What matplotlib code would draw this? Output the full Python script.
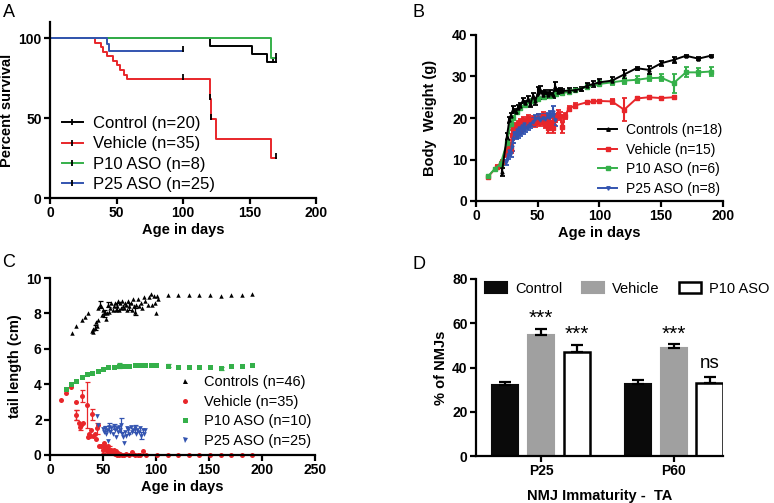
import matplotlib
matplotlib.use("Agg")
import matplotlib.pyplot as plt
from matplotlib.lines import Line2D
import numpy as np

plt.rcParams['font.family'] = ['Liberation Sans', 'DejaVu Sans']

BLACK = "#000000"
RED = "#e8262a"
GREEN = "#35b04a"
BLUE = "#3354b0"

# ---- A: survival ----
surv_ctrl_t = [0, 120, 152, 163, 170]
surv_ctrl_s = [100, 95, 90, 85, 85]
surv_veh_t = [0, 34, 38, 40, 43, 47, 50, 53, 56, 58, 62, 120, 121, 125, 166, 170]
surv_veh_s = [100, 97.1, 94.3, 91.4, 88.6, 85.7, 82.9, 80.0, 77.1, 74.3, 74.3, 61.9, 49.5, 37.1, 24.8, 24.8]
surv_p10_t = [0, 166, 170]
surv_p10_s = [100, 87.5, 87.5]
surv_p25_t = [0, 43, 44, 100]
surv_p25_s = [100, 96, 92, 92]
cens_ctrl = [(168, 85), (170, 85)]
cens_veh = [(100, 74.3), (120, 61.9), (121, 49.5), (170, 24.8)]
cens_p10 = [(170, 87.5)]
cens_p25 = [(100, 92)]

# ---- B: body weight ----
bw_ctrl_x = [21, 25, 27, 28, 30, 32, 34, 36, 38, 40, 42, 44, 46, 48, 50, 52, 54, 56, 58, 60,
             62, 64, 66, 68, 70, 75, 80, 85, 90, 95, 100, 110, 120, 130, 140, 150, 160, 170, 180, 190]
bw_ctrl_y = [7.0, 15.5, 19.5, 20.5, 22.0, 21.5, 22.5, 23.0, 24.2, 23.5, 24.5, 23.3, 25.2, 24.0, 26.0,
             26.8, 25.5, 26.2, 25.5, 26.0, 25.5, 27.5, 26.3, 26.6, 26.5, 26.6, 26.7, 27.0, 27.8, 28.2,
             28.6, 29.0, 30.5, 32.0, 31.6, 33.2, 34.0, 35.0, 34.3, 35.0]
bw_ctrl_e = [1.0, 0.8, 0.8, 0.7, 0.8, 0.6, 0.6, 0.6, 0.7, 0.6, 0.8, 0.7, 0.9, 0.8, 1.5, 0.8, 1.0, 0.6,
             0.8, 0.7, 0.6, 1.2, 0.6, 0.7, 0.6, 0.6, 0.5, 0.5, 0.7, 0.7, 0.7, 0.8, 1.0, 0.4, 0.9, 0.6,
             0.8, 0.3, 0.3, 0.3]

bw_veh_x = [10, 17, 21, 24, 26, 28, 29, 30, 32, 34, 35, 36, 38, 40, 42, 44, 46, 48, 50, 52, 54, 56,
            57, 58, 60, 62, 63, 64, 66, 68, 70, 72, 75, 80, 90, 95, 100, 110, 120, 130, 140, 150, 160]
bw_veh_y = [5.9, 8.3, 9.5, 11.5, 13.0, 12.5, 16.0, 17.5, 18.0, 18.5, 17.0, 19.0, 19.5, 18.5, 20.0,
            19.0, 19.5, 18.8, 20.0, 19.0, 20.5, 18.5, 20.0, 17.5, 19.0, 17.5, 19.5, 20.0, 21.0, 20.5,
            17.8, 20.5, 22.2, 23.0, 23.8, 24.0, 24.1, 24.0, 22.0, 24.7, 25.0, 24.8, 25.0]
bw_veh_e = [0.3, 0.3, 0.5, 0.8, 1.0, 1.0, 1.2, 1.0, 0.8, 0.8, 0.9, 0.8, 0.8, 0.9, 0.8, 0.9, 0.9, 0.9,
            1.0, 0.9, 1.0, 1.0, 0.9, 1.0, 1.0, 1.0, 1.2, 1.0, 1.0, 1.0, 1.3, 0.8, 0.6, 0.5, 0.4, 0.3,
            0.3, 0.6, 2.8, 0.3, 0.3, 0.3, 0.3]

bw_p10_x = [10, 15, 20, 25, 28, 30, 33, 36, 40, 45, 50, 55, 60, 65, 70, 75, 80, 90, 100, 110, 120,
            130, 140, 150, 160, 170, 180, 190]
bw_p10_y = [6.0, 7.7, 9.0, 14.0, 18.5, 20.0, 21.5, 22.5, 23.2, 24.0, 24.5, 25.0, 25.3, 25.7, 26.0,
            26.3, 26.7, 27.5, 28.2, 28.6, 29.0, 29.2, 29.6, 29.7, 28.4, 31.0, 31.0, 31.2]
bw_p10_e = [0.3, 0.3, 0.4, 0.6, 0.6, 0.6, 0.5, 0.5, 0.5, 0.5, 0.5, 0.5, 0.5, 0.5, 0.5, 0.5, 0.5, 0.6,
            0.6, 0.6, 0.7, 0.8, 0.8, 0.9, 2.3, 1.2, 1.0, 1.0]

bw_p25_x = [24, 26, 27, 28, 29, 30, 31, 32, 33, 34, 35, 36, 37, 38, 39, 40, 42, 44, 46, 48, 50, 52,
            54, 56, 58, 60, 62, 64]
bw_p25_y = [9.3, 11.0, 12.0, 11.5, 13.0, 15.0, 16.5, 15.8, 17.0, 16.0, 17.5, 16.5, 18.0, 17.0, 18.5,
            17.5, 18.0, 18.5, 19.0, 19.8, 20.0, 19.5, 20.0, 19.8, 20.3, 20.5, 21.5, 19.5]
bw_p25_e = [0.6, 0.8, 0.8, 0.8, 0.9, 1.0, 1.0, 0.9, 1.0, 0.9, 1.0, 0.9, 1.0, 0.9, 1.0, 0.9, 0.9, 0.9,
            1.0, 1.0, 0.9, 1.0, 1.0, 1.0, 1.0, 1.2, 1.3, 1.5]

# ---- C: tail length ----
tl_ctrl_x = [21, 25, 30, 33, 36, 40, 41, 41, 42, 43, 44, 45, 45, 47, 48, 49, 50, 51, 52, 53, 54, 55,
             56, 57, 58, 59, 60, 61, 62, 63, 64, 65, 66, 67, 68, 69, 70, 71, 72, 73, 74, 75, 76, 77,
             78, 79, 80, 81, 83, 84, 86, 87, 89, 90, 92, 93, 95, 96, 98, 99, 100, 101, 102,
             111, 121, 131, 141, 151, 161, 171, 181, 191]
tl_ctrl_y = [6.9, 7.3, 7.6, 7.8, 8.0, 7.0, 6.95, 7.1, 7.2, 7.5, 7.3, 7.6, 8.3, 8.5, 8.4, 7.9, 8.2,
             8.0, 8.1, 7.7, 8.0, 8.5, 8.1, 8.3, 8.6, 8.2, 8.4, 8.6, 8.2, 8.4, 8.7, 8.2, 8.6, 8.3, 8.7,
             8.4, 8.3, 8.6, 8.5, 8.2, 8.7, 8.4, 8.6, 8.2, 8.8, 8.4, 8.1, 8.5, 8.8, 8.4, 8.6, 8.3, 8.9,
             8.7, 8.5, 8.9, 9.1, 8.5, 9.0, 8.6, 8.0, 9.0, 8.8,
             9.05, 9.05, 9.05, 9.05, 9.05, 9.0, 9.05, 9.05, 9.1]
tl_ctrl_err = {47: 0.2, 51: 0.2, 55: 0.15, 63: 0.2, 75: 0.2, 80: 0.2, 42: 0.15}

tl_veh_x = [10, 15, 20, 25, 25, 27, 28, 29, 30, 31, 35, 36, 37, 38, 39, 40, 41, 42, 43, 44, 45, 46,
            48, 50, 51, 52, 53, 54, 55, 56, 57, 58, 59, 60, 61, 62, 63, 64, 65, 66, 68, 70, 72, 75,
            77, 78, 80, 83, 85, 88, 91, 101, 111, 121, 131, 141, 151, 161, 171, 181, 191]
tl_veh_y = [3.1, 3.5, 3.85, 2.25, 3.0, 1.8, 1.6, 1.7, 3.35, 1.8, 2.8, 1.0, 1.2, 1.1, 1.4, 2.3, 1.1,
            1.2, 0.9, 1.5, 1.7, 0.5, 0.5, 0.3, 0.7, 0.5, 0.4, 0.2, 0.5, 0.3, 0.1, 0.3, 0.1, 0.3,
            0.05, 0.2, 0.0, 0.1, 0.0, 0.05, 0.0, 0.0, 0.05, 0.0, 0.15, 0.05, 0.0, 0.0, 0.0, 0.2,
            0.0, 0.0, 0.0, 0.0, 0.0, 0.0, 0.0, 0.0, 0.0, 0.0, 0.0]
tl_veh_err = {25: 0.3, 30: 0.35, 35: 1.3, 40: 0.3, 44: 0.3, 28: 0.2, 50: 0.2, 56: 0.2}

tl_p10_x = [15, 20, 25, 30, 35, 40, 45, 50, 55, 60, 65, 70, 75, 80, 85, 90, 95, 100,
            111, 121, 131, 141, 151, 161, 171, 181, 191]
tl_p10_y = [3.75, 4.0, 4.2, 4.4, 4.55, 4.65, 4.75, 4.85, 4.95, 5.0, 5.05, 5.05, 5.05, 5.1, 5.1, 5.1,
            5.1, 5.1, 5.05, 5.0, 4.95, 5.0, 4.95, 4.9, 5.05, 5.05, 5.1]
tl_p10_err = {65: 0.15, 111: 0.1, 161: 0.1}

tl_p25_x = [44, 45, 50, 51, 52, 53, 54, 55, 56, 57, 58, 59, 60, 61, 62, 63, 64, 65, 66, 67, 68, 69,
            70, 71, 72, 73, 74, 75, 76, 77, 78, 80, 81, 82, 84, 85, 86, 88, 89, 90]
tl_p25_y = [2.2, 1.7, 1.45, 1.3, 1.5, 1.2, 1.4, 0.8, 1.6, 1.3, 1.5, 1.2, 1.6, 1.4, 1.0, 1.5, 1.3,
            1.6, 1.4, 1.7, 1.2, 1.0, 0.7, 1.3, 1.1, 1.5, 1.4, 1.2, 1.6, 1.3, 1.4, 1.5, 1.2, 1.4,
            1.3, 1.5, 1.1, 1.4, 1.2, 1.4]
tl_p25_err = {52: 0.15, 56: 0.2, 60: 0.15, 67: 0.4, 74: 0.2, 80: 0.2, 86: 0.2}

# ---- D: NMJ immaturity ----
nmj_groups = ["P25", "P60"]
nmj_ctrl = [32.0, 32.5]
nmj_ctrl_e = [1.5, 2.0]
nmj_veh = [54.5, 49.0]
nmj_veh_e = [3.0, 1.5]
nmj_p10 = [47.0, 33.0]
nmj_p10_e = [3.0, 2.8]
nmj_sig_veh = ["***", "***"]
nmj_sig_p10 = ["***", "ns"]

W, H = 774, 503
fig = plt.figure(figsize=(W / 100, H / 100), dpi=100)


def px_axes(left, top, right, bottom):
    return fig.add_axes([left / W, (H - bottom) / H, (right - left) / W, (bottom - top) / H])


def style(ax):
    for s in ["top", "right"]:
        ax.spines[s].set_visible(False)
    for s in ["left", "bottom"]:
        ax.spines[s].set_linewidth(1.6)
    ax.tick_params(direction="out", length=4, width=1.6, labelsize=10, pad=2)
    for lab in ax.get_xticklabels() + ax.get_yticklabels():
        lab.set_fontweight("bold")


# A
axA = px_axes(50, 22, 316, 198)
for t, s, c, cens in [(surv_ctrl_t, surv_ctrl_s, BLACK, cens_ctrl),
                      (surv_veh_t, surv_veh_s, RED, cens_veh),
                      (surv_p10_t, surv_p10_s, GREEN, cens_p10),
                      (surv_p25_t, surv_p25_s, BLUE, cens_p25)]:
    axA.plot(t, s, drawstyle="steps-post", color=c, lw=1.4)
    cx, cy = zip(*cens)
    axA.plot(cx, np.array(cy) + 1.2, ls="none", marker="|", ms=4, mew=1.3, color="black")
axA.set_xlim(0, 200)
axA.set_ylim(0, 110)
axA.set_xticks([0, 50, 100, 150, 200])
axA.set_yticks([0, 50, 100])
axA.set_xlabel("Age in days", fontsize=10.5, fontweight="bold", labelpad=2)
axA.set_ylabel("Percent survival", fontsize=10.5, fontweight="bold", labelpad=3)
style(axA)
hA = [Line2D([], [], color=c, lw=1.4, marker="|", ms=4, mew=1.3, mec="black")
      for c in [BLACK, RED, GREEN, BLUE]]
axA.legend(hA, ["Control (n=20)", "Vehicle (n=35)", "P10 ASO (n=8)", "P25 ASO (n=25)"],
           loc="upper left", bbox_to_anchor=(0.045, 0.465), frameon=False, fontsize=12,
           handlelength=1.25, handletextpad=0.6, labelspacing=0.32, borderpad=0, borderaxespad=0)

# B
axB = px_axes(476, 35, 723, 201)
for x, y, e, c, m in [(bw_veh_x, bw_veh_y, bw_veh_e, RED, "s"),
                      (bw_p25_x, bw_p25_y, bw_p25_e, BLUE, "v"),
                      (bw_p10_x, bw_p10_y, bw_p10_e, GREEN, "s"),
                      (bw_ctrl_x, bw_ctrl_y, bw_ctrl_e, BLACK, "^")]:
    axB.errorbar(x, y, yerr=e, color=c, lw=1.4, elinewidth=1.5, capsize=1.8, capthick=1.3,
                 marker=m, ms=2.2)
axB.set_xlim(0, 200)
axB.set_ylim(0, 40)
axB.set_xticks([0, 50, 100, 150, 200])
axB.set_yticks([0, 10, 20, 30, 40])
axB.set_xlabel("Age in days", fontsize=10.5, fontweight="bold", labelpad=2)
axB.set_ylabel("Body  Weight (g)", fontsize=10.5, fontweight="bold", labelpad=11)
style(axB)
hB = [Line2D([], [], color=c, lw=1.4, marker=m, ms=2.5)
      for c, m in [(BLACK, "^"), (RED, "s"), (GREEN, "s"), (BLUE, "v")]]
axB.legend(hB, ["Controls (n=18)", "Vehicle (n=15)", "P10 ASO (n=6)", "P25 ASO (n=8)"],
           loc="upper left", bbox_to_anchor=(0.494, 0.47), frameon=False, fontsize=10,
           handlelength=1.4, handletextpad=0.6, labelspacing=0.4, borderpad=0, borderaxespad=0)

# C
axC = px_axes(50, 278, 315, 455)
for x, y, errs, c, m, ms in [(tl_ctrl_x, tl_ctrl_y, tl_ctrl_err, BLACK, "^", 3.2),
                             (tl_veh_x, tl_veh_y, tl_veh_err, RED, "o", 3.6),
                             (tl_p10_x, tl_p10_y, tl_p10_err, GREEN, "s", 3.6),
                             (tl_p25_x, tl_p25_y, tl_p25_err, BLUE, "v", 3.4)]:
    axC.plot(x, y, ls="none", marker=m, ms=ms, color=c, mew=0, clip_on=False)
    ex = [xi for xi in x if xi in errs]
    ey = [y[x.index(xi)] for xi in ex]
    ee = [errs[xi] for xi in ex]
    axC.errorbar(ex, ey, yerr=ee, ls="none", color=c, elinewidth=0.9, capsize=1.8, capthick=0.9)
axC.set_xlim(0, 250)
axC.set_ylim(0, 10)
axC.set_xticks([0, 50, 100, 150, 200, 250])
axC.set_yticks([0, 2, 4, 6, 8, 10])
axC.set_xlabel("Age in days", fontsize=10.5, fontweight="bold", labelpad=2)
axC.set_ylabel("tail length (cm)", fontsize=10.5, fontweight="bold", labelpad=3)
style(axC)
hC = [Line2D([], [], ls="none", color=c, marker=m, ms=3.6, mew=0)
      for c, m in [(BLACK, "^"), (RED, "o"), (GREEN, "s"), (BLUE, "v")]]
axC.legend(hC, ["Controls (n=46)", "Vehicle (n=35)", "P10 ASO (n=10)", "P25 ASO (n=25)"],
           loc="upper left", bbox_to_anchor=(0.475, 0.45), frameon=False, fontsize=10.5,
           handlelength=1.3, handletextpad=0.6, labelspacing=0.38, borderpad=0, borderaxespad=0)

# D
axD = px_axes(476, 279, 723, 456)
pos = np.arange(len(nmj_groups))
off, bw = 0.27, 0.2
axD.bar(pos - off, nmj_ctrl, bw, color="#0a0a0a", edgecolor="#0a0a0a", lw=1.5, label="Control")
axD.bar(pos, nmj_veh, bw, color="#a0a0a0", edgecolor="#a0a0a0", lw=1.5, label="Vehicle")
axD.bar(pos + off, nmj_p10, bw, color="white", edgecolor="black", lw=1.8, label="P10 ASO")
for xo, vals, errs in [(-off, nmj_ctrl, nmj_ctrl_e), (0, nmj_veh, nmj_veh_e), (off, nmj_p10, nmj_p10_e)]:
    axD.errorbar(pos + xo, vals, yerr=[[0, 0], errs], ls="none", color="black",
                 elinewidth=1.6, capsize=4, capthick=1.6)
for i in range(len(nmj_groups)):
    axD.text(pos[i], nmj_veh[i] + nmj_veh_e[i] + 4.5, nmj_sig_veh[i], ha="center", va="center", fontsize=15)
    sig = nmj_sig_p10[i]
    axD.text(pos[i] + off, nmj_p10[i] + nmj_p10_e[i] + (5 if sig == "***" else 6), sig,
             ha="center", va="center", fontsize=15 if sig == "***" else 13.5)
axD.set_xlim(-0.49, 1.37)
axD.set_ylim(0, 80)
axD.set_xticks(pos)
axD.set_xticklabels(nmj_groups)
axD.set_yticks([0, 20, 40, 60, 80])
axD.set_xlabel("NMJ Immaturity -  TA", fontsize=10.5, fontweight="bold", labelpad=8)
axD.set_ylabel("% of NMJs", fontsize=10.5, fontweight="bold", labelpad=3)
style(axD)
axD.legend(loc="upper left", bbox_to_anchor=(0.036, 0.985), ncol=3, frameon=False, fontsize=10.5,
           handlelength=1.55, handleheight=0.75, handletextpad=0.55, columnspacing=1.3,
           borderpad=0, borderaxespad=0)

for lab, x, y in [("A", 3, 4), ("B", 413, 4), ("C", 2, 254), ("D", 413, 256)]:
    fig.text(x / W, 1 - y / H, lab, fontsize=13, va="top", ha="left")

fig.savefig("out.png", dpi=100)
